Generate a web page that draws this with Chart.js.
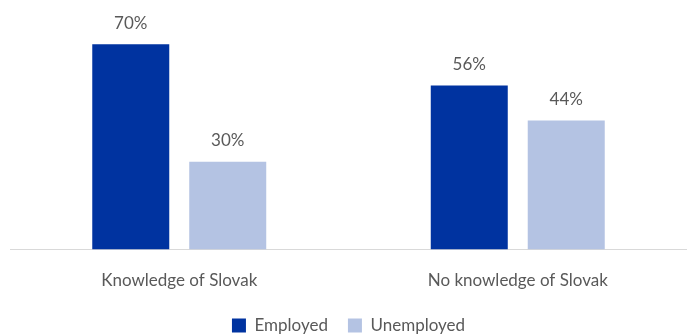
<!DOCTYPE html>
<html>
<head>
<meta charset="utf-8">
<script src="https://cdn.jsdelivr.net/npm/chart.js@4.4.1/dist/chart.umd.min.js"></script>
<style>
  html, body { margin: 0; padding: 0; background: #fff; }
  #wrap { width: 687px; height: 334px; }
</style>
</head>
<body>
<div id="wrap"><canvas id="grafica"></canvas></div>
<script>
const categorias = ['Knowledge of Slovak', 'No knowledge of Slovak'];
const empleados = [70, 56];
const desempleados = [30, 44];
const nombresSeries = ['Employed', 'Unemployed'];

const canvas = document.getElementById('grafica');
const context = canvas.getContext('2d');

// etiquetas de porcentaje sobre cada barra
const etiquetas = {
    id: 'etiquetas',
    afterDatasetsDraw(chart) {
        const ctx = chart.ctx;
        ctx.save();
        ctx.font = '17px Lato';
        ctx.fillStyle = '#595959';
        ctx.textAlign = 'center';
        ctx.textBaseline = 'middle';
        chart.data.datasets.forEach((ds, i) => {
            chart.getDatasetMeta(i).data.forEach((bar, j) => {
                ctx.fillText(ds.data[j] + '%', bar.x, bar.y - 21);
            });
        });
        ctx.restore();
    }
};

// subir la leyenda unos pixeles
const subirLeyenda = {
    id: 'subirLeyenda',
    afterLayout(chart) {
        chart.legend.top -= 7;
        chart.legend.bottom -= 7;
    }
};

const grafica = new Chart(context, {
    type: 'bar',
    data: {
        labels: categorias,
        datasets: [
            {
                label: nombresSeries[0],
                data: empleados,
                backgroundColor: '#0033a0',
                categoryPercentage: 0.573,
                barPercentage: 0.794
            },
            {
                label: nombresSeries[1],
                data: desempleados,
                backgroundColor: '#b4c3e3',
                categoryPercentage: 0.573,
                barPercentage: 0.794
            }
        ]
    },
    options: {
        responsive: true,
        maintainAspectRatio: false,
        animation: false,
        layout: {
            padding: { left: 10, right: 0, top: 15, bottom: -17 }
        },
        scales: {
            x: {
                grid: { display: false },
                border: { color: '#d9d9d9', width: 1 },
                ticks: {
                    color: '#595959',
                    font: { family: 'Lato', size: 17 },
                    padding: 13
                }
            },
            y: {
                display: false,
                min: 0,
                max: 80
            }
        },
        plugins: {
            legend: {
                position: 'bottom',
                labels: {
                    color: '#595959',
                    font: { family: 'Lato', size: 17 },
                    boxWidth: 14,
                    boxHeight: 14,
                    padding: 20
                }
            },
            tooltip: { enabled: false }
        }
    },
    plugins: [etiquetas, subirLeyenda]
});
</script>
</body>
</html>
